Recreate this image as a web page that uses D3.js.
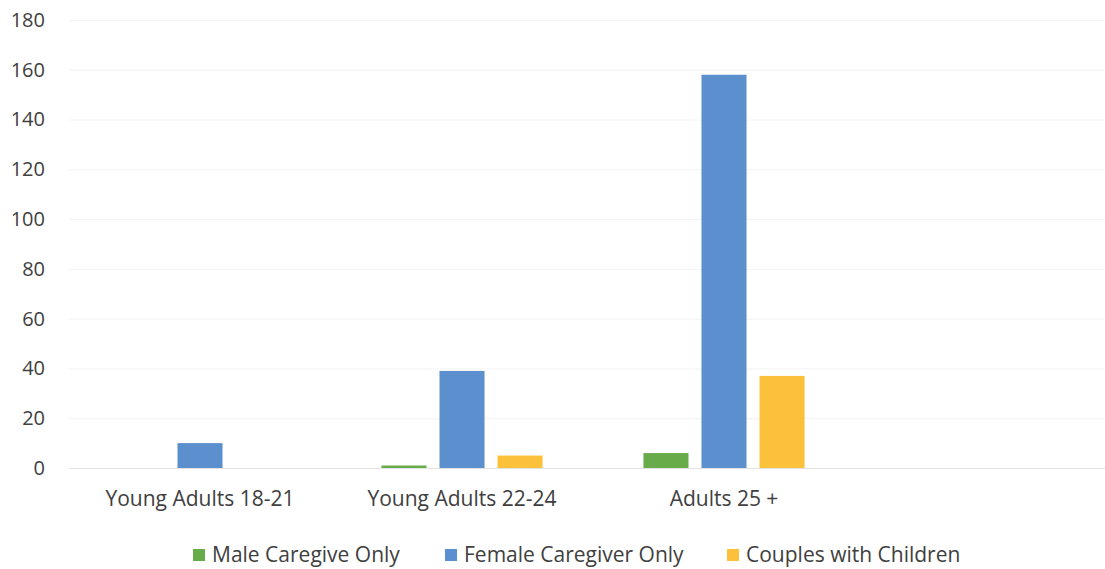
<!DOCTYPE html>
<html><head><meta charset="utf-8">
<script src="https://cdn.jsdelivr.net/npm/d3@7"></script>
<style>body{margin:0;background:#fff}svg{display:block}</style>
</head><body>
<script>
const categories = ["Young Adults 18-21", "Young Adults 22-24", "Adults 25 +", ""];
const seriesNames = ["Male Caregive Only", "Female Caregiver Only", "Couples with Children"];
const maleValues = [0, 1, 6, null];
const femaleValues = [10, 39, 158, null];
const couplesValues = [0, 5, 37, null];
const yTicks = [0, 20, 40, 60, 80, 100, 120, 140, 160, 180];
const colors = ["#68ab4a", "#5b8fcd", "#fcc13a"];

const W = 1105, H = 569;
const svg = d3.select("body").append("svg").attr("width", W).attr("height", H);
const font = "'Open Sans', 'Noto Sans', sans-serif";
const textColor = "#404040";

const plotLeft = 69, plotRight = 1117, plotTop = 20, plotBottom = 468;
const x = d3.scaleBand().domain(categories).range([plotLeft, plotRight]).paddingInner(0.385).paddingOuter(0.1925);
const xs = d3.scaleBand().domain(seriesNames).range([0, x.bandwidth()]).paddingInner(0.224);
const y = d3.scaleLinear().domain([0, 180]).range([plotBottom, plotTop]);

// gridlines + y labels
const yAxis = d3.axisLeft(y).tickValues(yTicks).tickSize(-(W - plotLeft)).tickPadding(24);
const gy = svg.append("g").attr("transform", `translate(${plotLeft},0)`).call(yAxis);
gy.select(".domain").remove();
gy.selectAll(".tick line").attr("stroke", d => d === 0 ? "#e3e3e3" : "#f2f2f2").attr("stroke-width", 1);
gy.selectAll(".tick text").attr("font-family", font).attr("font-size", 20).attr("fill", textColor);

// bars
const seriesData = [maleValues, femaleValues, couplesValues];
const groups = svg.append("g");
seriesData.forEach((vals, si) => {
  groups.selectAll(null).data(categories.map((c, i) => ({c, v: vals[i]})).filter(d => d.v != null && d.v > 0))
    .enter().append("rect")
    .attr("x", d => x(d.c) + xs(seriesNames[si]))
    .attr("width", xs.bandwidth())
    .attr("y", d => y(d.v))
    .attr("height", d => y(0) - y(d.v))
    .attr("fill", colors[si]);
});

// x axis labels
const xAxis = d3.axisBottom(x).tickSize(0).tickPadding(23);
const gx = svg.append("g").attr("transform", `translate(0,${plotBottom})`).call(xAxis);
gx.select(".domain").remove();
gx.selectAll(".tick text").attr("font-family", font).attr("font-size", 21).attr("fill", textColor);

// legend
const legendX = [193, 445, 727];
const lg = svg.append("g");
seriesNames.forEach((n, i) => {
  lg.append("rect").attr("x", legendX[i]).attr("y", 549).attr("width", 12).attr("height", 12).attr("fill", colors[i]);
  lg.append("text").attr("x", legendX[i] + 19).attr("y", 562).text(n)
    .attr("font-family", font).attr("font-size", 21).attr("fill", textColor);
});
</script>
</body></html>
